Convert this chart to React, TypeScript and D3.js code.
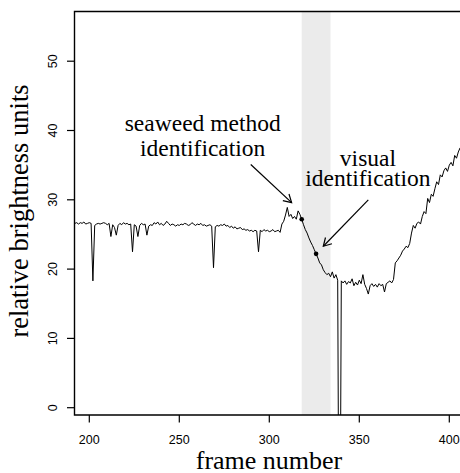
import React from "react";
import * as d3 from "d3";

const startFrame = 192;
const brightness: number[] = [
  26.6, 26.7, 26.5, 26.7, 26.6, 26.8, 26.5, 26.6, 26.7, 26.6, // 192-201
  18.3, 26.3, 26.5, 26.6, 26.5, 26.6, 26.7, 26.6, 26.4, 26.6, // 202-211
  24.7, 26.4, 26.0, 24.9, 26.3, 26.6, 26.4, 26.7, 26.5, 26.6, // 212-221
  26.4, 26.5, 22.5, 26.4, 26.2, 24.7, 26.3, 26.6, 26.4, 26.5, // 222-231
  24.9, 26.2, 26.4, 26.3, 26.7, 26.5, 26.8, 26.4, 26.6, 26.3, // 232-241
  26.5, 26.9, 26.6, 26.3, 26.5, 26.4, 26.2, 26.4, 26.3, 26.5, // 242-251
  26.4, 26.6, 26.5, 26.3, 26.4, 26.7, 26.5, 26.3, 26.5, 26.4, // 252-261
  26.6, 26.3, 26.4, 26.2, 26.3, 26.4, 26.2, 20.2, 26.1, 26.3, // 262-271
  26.2, 26.4, 26.3, 26.5, 26.2, 26.3, 26.0, 26.2, 25.9, 26.1, // 272-281
  25.8, 25.9, 26.0, 25.7, 25.8, 25.6, 25.7, 25.5, 25.6, 25.4, // 282-291
  25.6, 25.5, 22.5, 25.6, 25.4, 25.7, 25.5, 25.6, 25.4, 25.5, // 292-301
  25.7, 25.4, 25.5, 25.6, 25.3, 26.5, 26.9, 27.8, 28.9, 27.6, // 302-311
  27.9, 27.3, 27.6, 27.2, 28.4, 27.9, 27.2, 26.4, 25.7, 25.2, // 312-321
  24.5, 23.9, 23.4, 22.8, 22.2, 21.6, 20.9, 20.6, 19.9, 19.5, // 322-331
  19.2, 19.4, 18.9, 19.6, 18.7, 19.2, 18.4, -40, 18.3, 18.0,  // 332-341
  18.3, 17.8, 18.2, 18.0, 18.6, 17.6, 18.1, 17.7, 18.4, 17.9, // 342-351
  19.2, 17.8, 17.2, 16.4, 17.6, 17.9, 17.5, 17.8, 17.4, 17.9, // 352-361
  17.6, 17.8, 16.7, 17.9, 18.1, 18.3, 18.0, 18.5, 20.9, 21.2, // 362-371
  21.6, 22.0, 22.6, 22.9, 23.3, 23.1, 23.7, 25.2, 26.3, 25.9, // 372-381
  26.6, 26.8, 26.5, 27.6, 28.3, 28.0, 30.2, 29.6, 30.8, 30.5, // 382-391
  31.6, 32.6, 32.2, 33.6, 33.3, 34.2, 34.6, 34.1, 35.0, 35.4, // 392-401
  34.9, 36.4, 36.0, 36.9, 37.5,                               // 402-406
];

const xTicks = [200, 250, 300, 350, 400];
const yTicks = [0, 10, 20, 30, 40, 50];
const bandFrames = [318, 334];
const markFrames = [318, 326];
const markValues = [27.2, 22.2];

const seaweedLines = ["seaweed method", "identification"];
const visualLines = ["visual", "identification"];

export default function App() {
  const W = 460, H = 473;
  const left = 74.5, top = 11.5, bottom = 415, right = 462;
  const x = d3.scaleLinear().domain([200, 400]).range([89.3, 449.3]);
  const y = d3.scaleLinear().domain([0, 50]).range([407.7, 61.2]);

  const pts = brightness.map((v, i) => [startFrame + i, v] as [number, number]);
  const line = d3.line<[number, number]>().x(d => x(d[0])).y(d => y(d[1]));

  const serif = "'Liberation Serif', 'Times New Roman', serif";
  const sans = "'Liberation Sans', Arial, sans-serif";

  const arrow = (x1: number, y1: number, x2: number, y2: number, key: string) => {
    const ang = Math.atan2(y2 - y1, x2 - x1);
    const len = 9, a = Math.PI / 6;
    const p1 = [x2 - len * Math.cos(ang - a), y2 - len * Math.sin(ang - a)];
    const p2 = [x2 - len * Math.cos(ang + a), y2 - len * Math.sin(ang + a)];
    return (
      <g key={key} stroke="#000" strokeWidth={1.2} fill="none">
        <line x1={x1} y1={y1} x2={x2} y2={y2} />
        <polyline points={`${p1[0]},${p1[1]} ${x2},${y2} ${p2[0]},${p2[1]}`} />
      </g>
    );
  };

  return (
    <svg width={W} height={H} style={{ position: "absolute", left: 0, top: 0, background: "#fff" }}>
      <defs>
        <clipPath id="plotclip">
          <rect x={left} y={top} width={right - left} height={bottom - top} />
        </clipPath>
      </defs>
      <rect x={x(bandFrames[0])} y={top} width={x(bandFrames[1]) - x(bandFrames[0])} height={bottom - top} fill="#ebebeb" />
      <path d={line(pts) || ""} fill="none" stroke="#000" strokeWidth={1} clipPath="url(#plotclip)" />
      {markFrames.map((f, i) => (
        <circle key={i} cx={x(f)} cy={y(markValues[i])} r={2.3} fill="#000" />
      ))}
      {arrow(x(289.7), y(35.1), x(312.4), y(29.6), "a1")}
      {arrow(x(355), y(30.0), x(330), y(23.3), "a2")}
      <g fontFamily={serif} fontSize={23.5} textAnchor="middle" fill="#000">
        <text x={x(263)} y={y(39.86)}>{seaweedLines[0]}</text>
        <text x={x(263)} y={y(36.25)}>{seaweedLines[1]}</text>
        <text x={x(354.8)} y={y(34.92)}>{visualLines[0]}</text>
        <text x={x(354.8)} y={y(32.06)}>{visualLines[1]}</text>
      </g>
      {/* box */}
      <path d={`M${right},${top}H${left}V${bottom}H${right}`} fill="none" stroke="#000" strokeWidth={1.4} />
      {/* x axis */}
      {xTicks.map(t => (
        <g key={t}>
          <line x1={x(t)} x2={x(t)} y1={bottom} y2={bottom + 7.5} stroke="#000" strokeWidth={1.2} />
          <text x={x(t)} y={444} fontFamily={sans} fontSize={12.5} textAnchor="middle">{t}</text>
        </g>
      ))}
      {yTicks.map(t => (
        <g key={t}>
          <line x1={left - 7.5} x2={left} y1={y(t)} y2={y(t)} stroke="#000" strokeWidth={1.2} />
          <text transform={`translate(56.5,${y(t)}) rotate(-90)`} fontFamily={sans} fontSize={12.5} textAnchor="middle">{t}</text>
        </g>
      ))}
      <text x={269} y={469} fontFamily={serif} fontSize={26} textAnchor="middle">frame number</text>
      <text transform={`translate(28,211) rotate(-90)`} fontFamily={serif} fontSize={26.5} textAnchor="middle">relative brightness units</text>
    </svg>
  );
}
